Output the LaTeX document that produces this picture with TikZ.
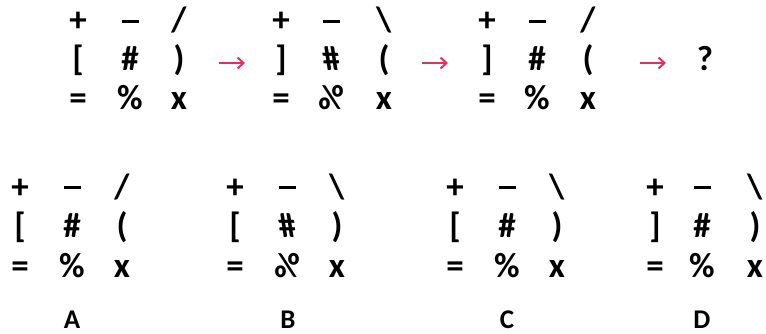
\documentclass[tikz,border=0pt]{standalone}
\usepackage{fontspec}
\setmainfont{Carlito}
\usepackage{graphicx}
\usetikzlibrary{arrows.meta}
\definecolor{arrowred}{RGB}{226,48,92}
\begin{document}
\begin{tikzpicture}[x=1pt,y=-1pt,
  sym/.style={anchor=base,inner sep=0pt,font=\fontsize{35}{35}\selectfont\bfseries},
  lbl/.style={anchor=base,inner sep=0pt,font=\fontsize{27}{27}\selectfont\bfseries},
  arr/.style={arrowred,line width=2pt,-{Straight Barb[length=6pt,width=11pt]}}]
\useasboundingbox (0,0) rectangle (766,334);
\newcommand{\hashmir}{\reflectbox{\#}}
\newcommand{\pctmir}{\reflectbox{\%}}
\newcommand{\mns}{\rule[8.5pt]{17pt}{3.6pt}}
% top grid 1
\node[sym] (a11) at (78,32) {+};
\node[sym] (a12) at (130,32) {\mns};
\node[sym] (a13) at (179,32) {/};
\node[sym] (a21) at (78,71) {[};
\node[sym] (a22) at (130,71) {\#};
\node[sym] (a23) at (179,71) {)};
\node[sym] (a31) at (78,110) {=};
\node[sym] (a32) at (130,110) {\%};
\node[sym] (a33) at (179,110) {x};
% top grid 2
\node[sym] (b11) at (281,32) {+};
\node[sym] (b12) at (331,32) {\mns};
\node[sym] (b13) at (384,32) {\textbackslash};
\node[sym] (b21) at (281,71) {]};
\node[sym] (b22) at (331,71) {\hashmir};
\node[sym] (b23) at (384,71) {(};
\node[sym] (b31) at (281,110) {=};
\node[sym] (b32) at (331,110) {\pctmir};
\node[sym] (b33) at (384,110) {x};
% top grid 3
\node[sym] (c11) at (487,32) {+};
\node[sym] (c12) at (537,32) {\mns};
\node[sym] (c13) at (588,32) {/};
\node[sym] (c21) at (487,71) {]};
\node[sym] (c22) at (537,71) {\#};
\node[sym] (c23) at (588,71) {(};
\node[sym] (c31) at (487,110) {=};
\node[sym] (c32) at (537,110) {\%};
\node[sym] (c33) at (588,110) {x};
\node[sym] (q) at (705,71) {?};
% arrows
\coordinate (s1) at (219,63); \coordinate (e1) at (245,63);
\coordinate (s2) at (422,63); \coordinate (e2) at (448,63);
\coordinate (s3) at (640,63); \coordinate (e3) at (666,63);
\draw[arr] (s1) -- (e1);
\draw[arr] (s2) -- (e2);
\draw[arr] (s3) -- (e3);
% option A
\node[sym] (A11) at (20,198) {+};
\node[sym] (A12) at (72,198) {\mns};
\node[sym] (A13) at (122,198) {/};
\node[sym] (A21) at (20,237) {[};
\node[sym] (A22) at (72,237) {\#};
\node[sym] (A23) at (122,237) {(};
\node[sym] (A31) at (20,277) {=};
\node[sym] (A32) at (72,277) {\%};
\node[sym] (A33) at (122,277) {x};
\node[lbl] (LA) at (72,328) {A};
% option B
\node[sym] (B11) at (235,198) {+};
\node[sym] (B12) at (287,198) {\mns};
\node[sym] (B13) at (337,198) {\textbackslash};
\node[sym] (B21) at (235,237) {[};
\node[sym] (B22) at (287,237) {\hashmir};
\node[sym] (B23) at (337,237) {)};
\node[sym] (B31) at (235,277) {=};
\node[sym] (B32) at (287,277) {\pctmir};
\node[sym] (B33) at (337,277) {x};
\node[lbl] (LB) at (288,328) {B};
% option C
\node[sym] (C11) at (455,198) {+};
\node[sym] (C12) at (507,198) {\mns};
\node[sym] (C13) at (557,198) {\textbackslash};
\node[sym] (C21) at (455,237) {[};
\node[sym] (C22) at (507,237) {\#};
\node[sym] (C23) at (557,237) {)};
\node[sym] (C31) at (455,277) {=};
\node[sym] (C32) at (507,277) {\%};
\node[sym] (C33) at (557,277) {x};
\node[lbl] (LC) at (507,328) {C};
% option D
\node[sym] (D11) at (655,198) {+};
\node[sym] (D12) at (702,198) {\mns};
\node[sym] (D13) at (755,198) {\textbackslash};
\node[sym] (D21) at (655,237) {]};
\node[sym] (D22) at (702,237) {\#};
\node[sym] (D23) at (755,237) {)};
\node[sym] (D31) at (655,277) {=};
\node[sym] (D32) at (702,277) {\%};
\node[sym] (D33) at (755,277) {x};
\node[lbl] (LD) at (702,328) {D};
\end{tikzpicture}
\end{document}
